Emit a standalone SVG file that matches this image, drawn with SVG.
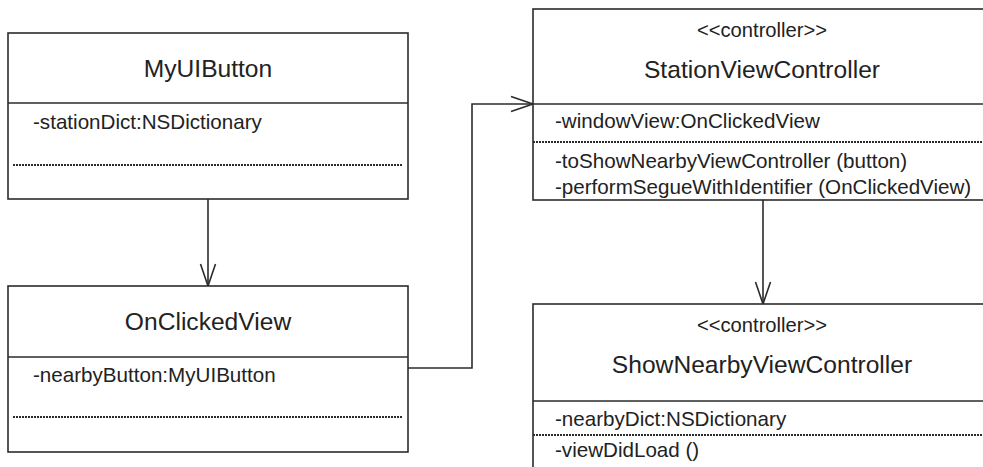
<svg xmlns="http://www.w3.org/2000/svg" width="983" height="467" viewBox="0 0 983 467">
<style>
.box{fill:#fff;stroke:#2b2b2b;stroke-width:1.6}
.sep{stroke:#2b2b2b;stroke-width:1.6}
.dot{stroke:#2b2b2b;stroke-width:1.8;stroke-dasharray:2 1}
.title{font-family:"Liberation Sans",Arial,sans-serif;font-size:24.6px;fill:#222;text-anchor:middle}
.stereo{font-family:"Liberation Sans",Arial,sans-serif;font-size:20.2px;fill:#222;text-anchor:middle}
.attr{font-family:"Liberation Sans",Arial,sans-serif;font-size:20.6px;fill:#222}
.conn{fill:none;stroke:#2b2b2b;stroke-width:1.6}
</style>
<defs>
<marker id="open" viewBox="0 0 24 18" refX="23" refY="9" markerWidth="24" markerHeight="18" markerUnits="userSpaceOnUse" orient="auto">
<path d="M1,1.5 L23,9 L1,16.5" fill="none" stroke="#2b2b2b" stroke-width="1.6"/>
</marker>
</defs>
<rect width="983" height="467" fill="#fff"/>
<g id="connectors">
<path class="conn" d="M208,199 L208,286" marker-end="url(#open)"/>
<path class="conn" d="M408,368 L472,368 L472,104 L533,104" marker-end="url(#open)"/>
<path class="conn" d="M763,200 L763,304" marker-end="url(#open)"/>
</g>
<g id="MyUIButton">
<rect class="box" x="8" y="33" width="400" height="166"/>
<line class="sep" x1="8" y1="103" x2="408" y2="103"/>
<line class="dot" x1="13" y1="165" x2="402" y2="165"/>
<text class="title" x="208" y="77">MyUIButton</text>
<text class="attr" x="33" y="129">-stationDict:NSDictionary</text>
</g>
<g id="OnClickedView">
<rect class="box" x="8" y="286" width="400" height="166"/>
<line class="sep" x1="8" y1="357" x2="408" y2="357"/>
<line class="dot" x1="13" y1="417" x2="402" y2="417"/>
<text class="title" x="208" y="330">OnClickedView</text>
<text class="attr" x="33" y="382">-nearbyButton:MyUIButton</text>
</g>
<g id="StationViewController">
<rect class="box" x="533" y="9" width="470" height="191"/>
<line class="sep" x1="533" y1="104" x2="990" y2="104"/>
<line class="dot" x1="533" y1="142" x2="990" y2="142"/>
<text class="stereo" x="762" y="37">&lt;&lt;controller&gt;&gt;</text>
<text class="title" x="762" y="78">StationViewController</text>
<text class="attr" x="555" y="128">-windowView:OnClickedView</text>
<text class="attr" x="555" y="168">-toShowNearbyViewController (button)</text>
<text class="attr" x="555" y="194">-performSegueWithIdentifier (OnClickedView)</text>
</g>
<g id="ShowNearbyViewController">
<rect class="box" x="533" y="304" width="470" height="190"/>
<line class="sep" x1="533" y1="401" x2="990" y2="401"/>
<line class="dot" x1="533" y1="435" x2="990" y2="435"/>
<text class="stereo" x="762" y="332">&lt;&lt;controller&gt;&gt;</text>
<text class="title" x="762" y="373">ShowNearbyViewController</text>
<text class="attr" x="555" y="426">-nearbyDict:NSDictionary</text>
<text class="attr" x="555" y="457">-viewDidLoad ()</text>
</g>
</svg>
